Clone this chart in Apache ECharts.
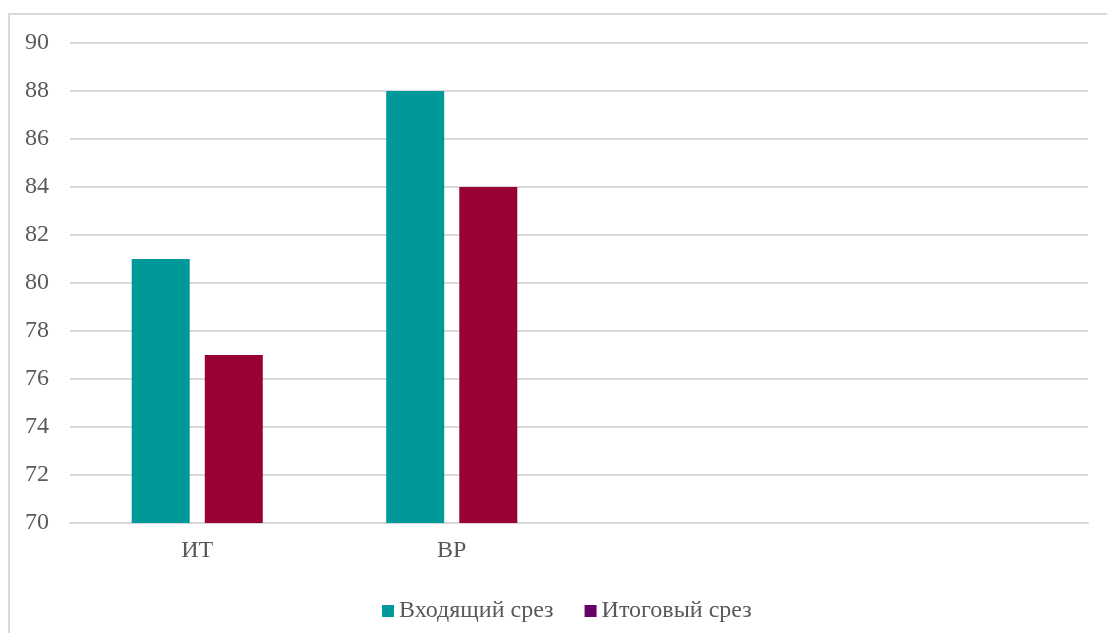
<!DOCTYPE html>
<html>
<head>
<meta charset="utf-8">
<script src="https://cdn.jsdelivr.net/npm/echarts@6/dist/echarts.min.js"></script>
<style>
  html, body { margin: 0; padding: 0; background: #ffffff; }
  #frame {
    position: absolute; left: 8px; top: 13px; width: 1120px; height: 640px;
    border: 2px solid #d9d9d9; box-sizing: border-box;
  }
  #chart { position: absolute; left: 0; top: 0; width: 1107px; height: 633px; }
</style>
</head>
<body>
<div id="frame"></div>
<div id="chart"></div>
<script>
// Survey results per group: entry test vs. final test
const categories = ['ИТ', 'ВР', '', ''];
const seriesNames = ['Входящий срез', 'Итоговый срез'];
const entryScores = [81, 88, null, null];
const finalScores = [77, 84, null, null];
const yTicks = { min: 70, max: 90, interval: 2 };

const font = '"Liberation Serif", "Times New Roman", serif';
const textColor = '#595959';

const chart = echarts.init(document.getElementById('chart'), null, { renderer: 'canvas' });
chart.setOption({
  animation: false,
  backgroundColor: 'transparent',
  grid: { left: 70, right: 19, top: 43, bottom: 110, containLabel: false },
  legend: {
    top: 594,
    left: 377,
    itemWidth: 12,
    itemHeight: 12,
    itemGap: 31,
    icon: 'rect',
    textStyle: { fontFamily: font, fontSize: 24, color: textColor },
    data: [
      { name: seriesNames[0], itemStyle: { color: '#009999' } },
      { name: seriesNames[1], itemStyle: { color: '#660066' } }
    ]
  },
  xAxis: {
    type: 'category',
    data: categories,
    axisLine: { show: true, lineStyle: { color: '#d9d9d9', width: 2 } },
    axisTick: { show: false },
    axisLabel: { fontFamily: font, fontSize: 24, color: textColor, margin: 16 }
  },
  yAxis: {
    type: 'value',
    min: yTicks.min,
    max: yTicks.max,
    interval: yTicks.interval,
    axisLine: { show: false },
    axisTick: { show: false },
    axisLabel: { fontFamily: font, fontSize: 24, color: textColor, margin: 21 },
    splitLine: { lineStyle: { color: '#d9d9d9', width: 2 } }
  },
  series: [
    {
      name: seriesNames[0],
      type: 'bar',
      data: entryScores,
      barWidth: 58,
      barGap: '26%',
      itemStyle: { color: '#009999' }
    },
    {
      name: seriesNames[1],
      type: 'bar',
      data: finalScores,
      barWidth: 58,
      itemStyle: { color: '#990033' }
    }
  ]
});
</script>
</body>
</html>
